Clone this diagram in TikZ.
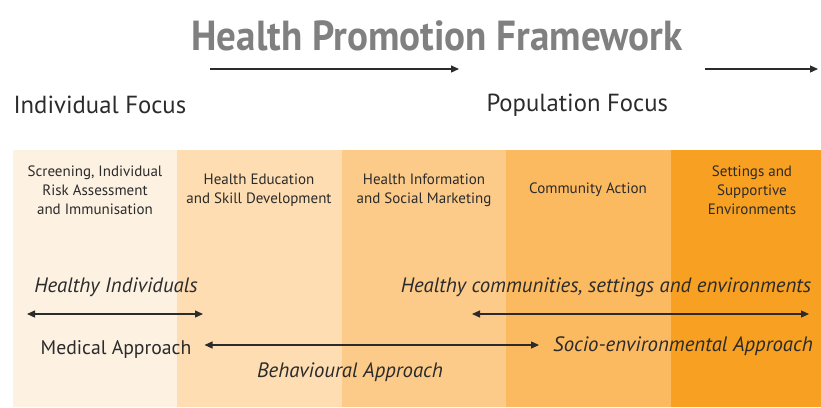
\documentclass[tikz,border=0pt]{standalone}
\usepackage{fontspec}
\setmainfont{PT Sans}
\usetikzlibrary{positioning, calc, arrows.meta}

\definecolor{bandA}{HTML}{FDF1E2}
\definecolor{bandB}{HTML}{FDDDB1}
\definecolor{bandC}{HTML}{FCCB8A}
\definecolor{bandD}{HTML}{FBB960}
\definecolor{bandE}{HTML}{F7A021}
\definecolor{ink}{HTML}{2B2B2B}
\definecolor{titlegray}{HTML}{808080}

\begin{document}
\begin{tikzpicture}[
    x=1pt, y=-1pt,
    band/.style={
        fill=#1,
        draw=none,
        inner sep=0pt,
        anchor=north west,
        minimum height=257pt,
    },
    action/.style={
        text=ink,
        align=center,
        font=\fontsize{15}{19}\selectfont,
    },
    focus/.style={
        text=ink,
        font=\fontsize{24.7}{28}\selectfont,
    },
    outcome/.style={
        text=ink,
        font=\fontsize{20.8}{24}\selectfont\itshape,
    },
    approach/.style={
        text=ink,
        font=\fontsize{19.7}{23}\selectfont,
    },
    arrow/.style={
        draw=ink,
        line width=1.2pt,
        -{Triangle[length=8pt, width=7pt]},
    },
    both/.style={
        arrow,
        {Triangle[length=8pt, width=7pt]}-{Triangle[length=8pt, width=7pt]},
    },
]
    \useasboundingbox (0,0) rectangle (821,407);

    % coloured bands, lightest on the left
    \node[band=bandA, minimum width=164pt] (screening) at (13,150) {};
    \node[band=bandB, minimum width=165pt] (education) at (177,150) {};
    \node[band=bandC, minimum width=164pt] (information) at (342,150) {};
    \node[band=bandD, minimum width=165pt] (community) at (506,150) {};
    \node[band=bandE, minimum width=150pt] (settings) at (671,150) {};

    \node[action] (screeningtext) at (95,190) {Screening, Individual\\Risk Assessment\\and Immunisation};
    \node[action] (educationtext) at (259,190) {Health Education\\and Skill Development};
    \node[action] (informationtext) at (424,190) {Health Information\\and Social Marketing};
    \node[action] (communitytext) at (588,190) {Community Action};
    \node[action] (settingstext) at (752,190) {Settings and\\Supportive\\Environments};

    % heading
    \node[text=titlegray, font=\fontsize{42}{46}\bfseries\selectfont] (title) at (437,36)
        {\scalebox{0.93}[1]{Health Promotion Framework}};
    \coordinate (topA) at (210,69);
    \coordinate (topB) at (459,69);
    \coordinate (topC) at (705,69);
    \coordinate (topD) at (818,69);
    \draw[arrow] (topA) -- (topB);
    \draw[arrow] (topC) -- (topD);

    \node[focus, anchor=west] (individual) at (10,105) {Individual Focus};
    \node[focus, anchor=west] (population) at (483,105) {Population Focus};

    % outcomes
    \node[outcome] (healthyind) at (116,287) {Healthy Individuals};
    \node[outcome] (healthycom) at (606,287) {Healthy communities, settings and environments};
    \coordinate (indL) at (27,314);
    \coordinate (indR) at (203,314);
    \coordinate (comL) at (472,314);
    \coordinate (comR) at (809,314);
    \draw[both] (indL) -- (indR);
    \draw[both] (comL) -- (comR);

    % approaches
    \node[approach, inner xsep=13pt] (medical) at (116,349) {Medical Approach};
    \node[outcome, inner xsep=14pt] (socio) at (683,346) {Socio-environmental Approach};
    \node[outcome] (behavioural) at (350,372) {Behavioural Approach};
    \draw[both] (medical.east |- 0,345) -- (socio.west |- 0,345);

\end{tikzpicture}
\end{document}
